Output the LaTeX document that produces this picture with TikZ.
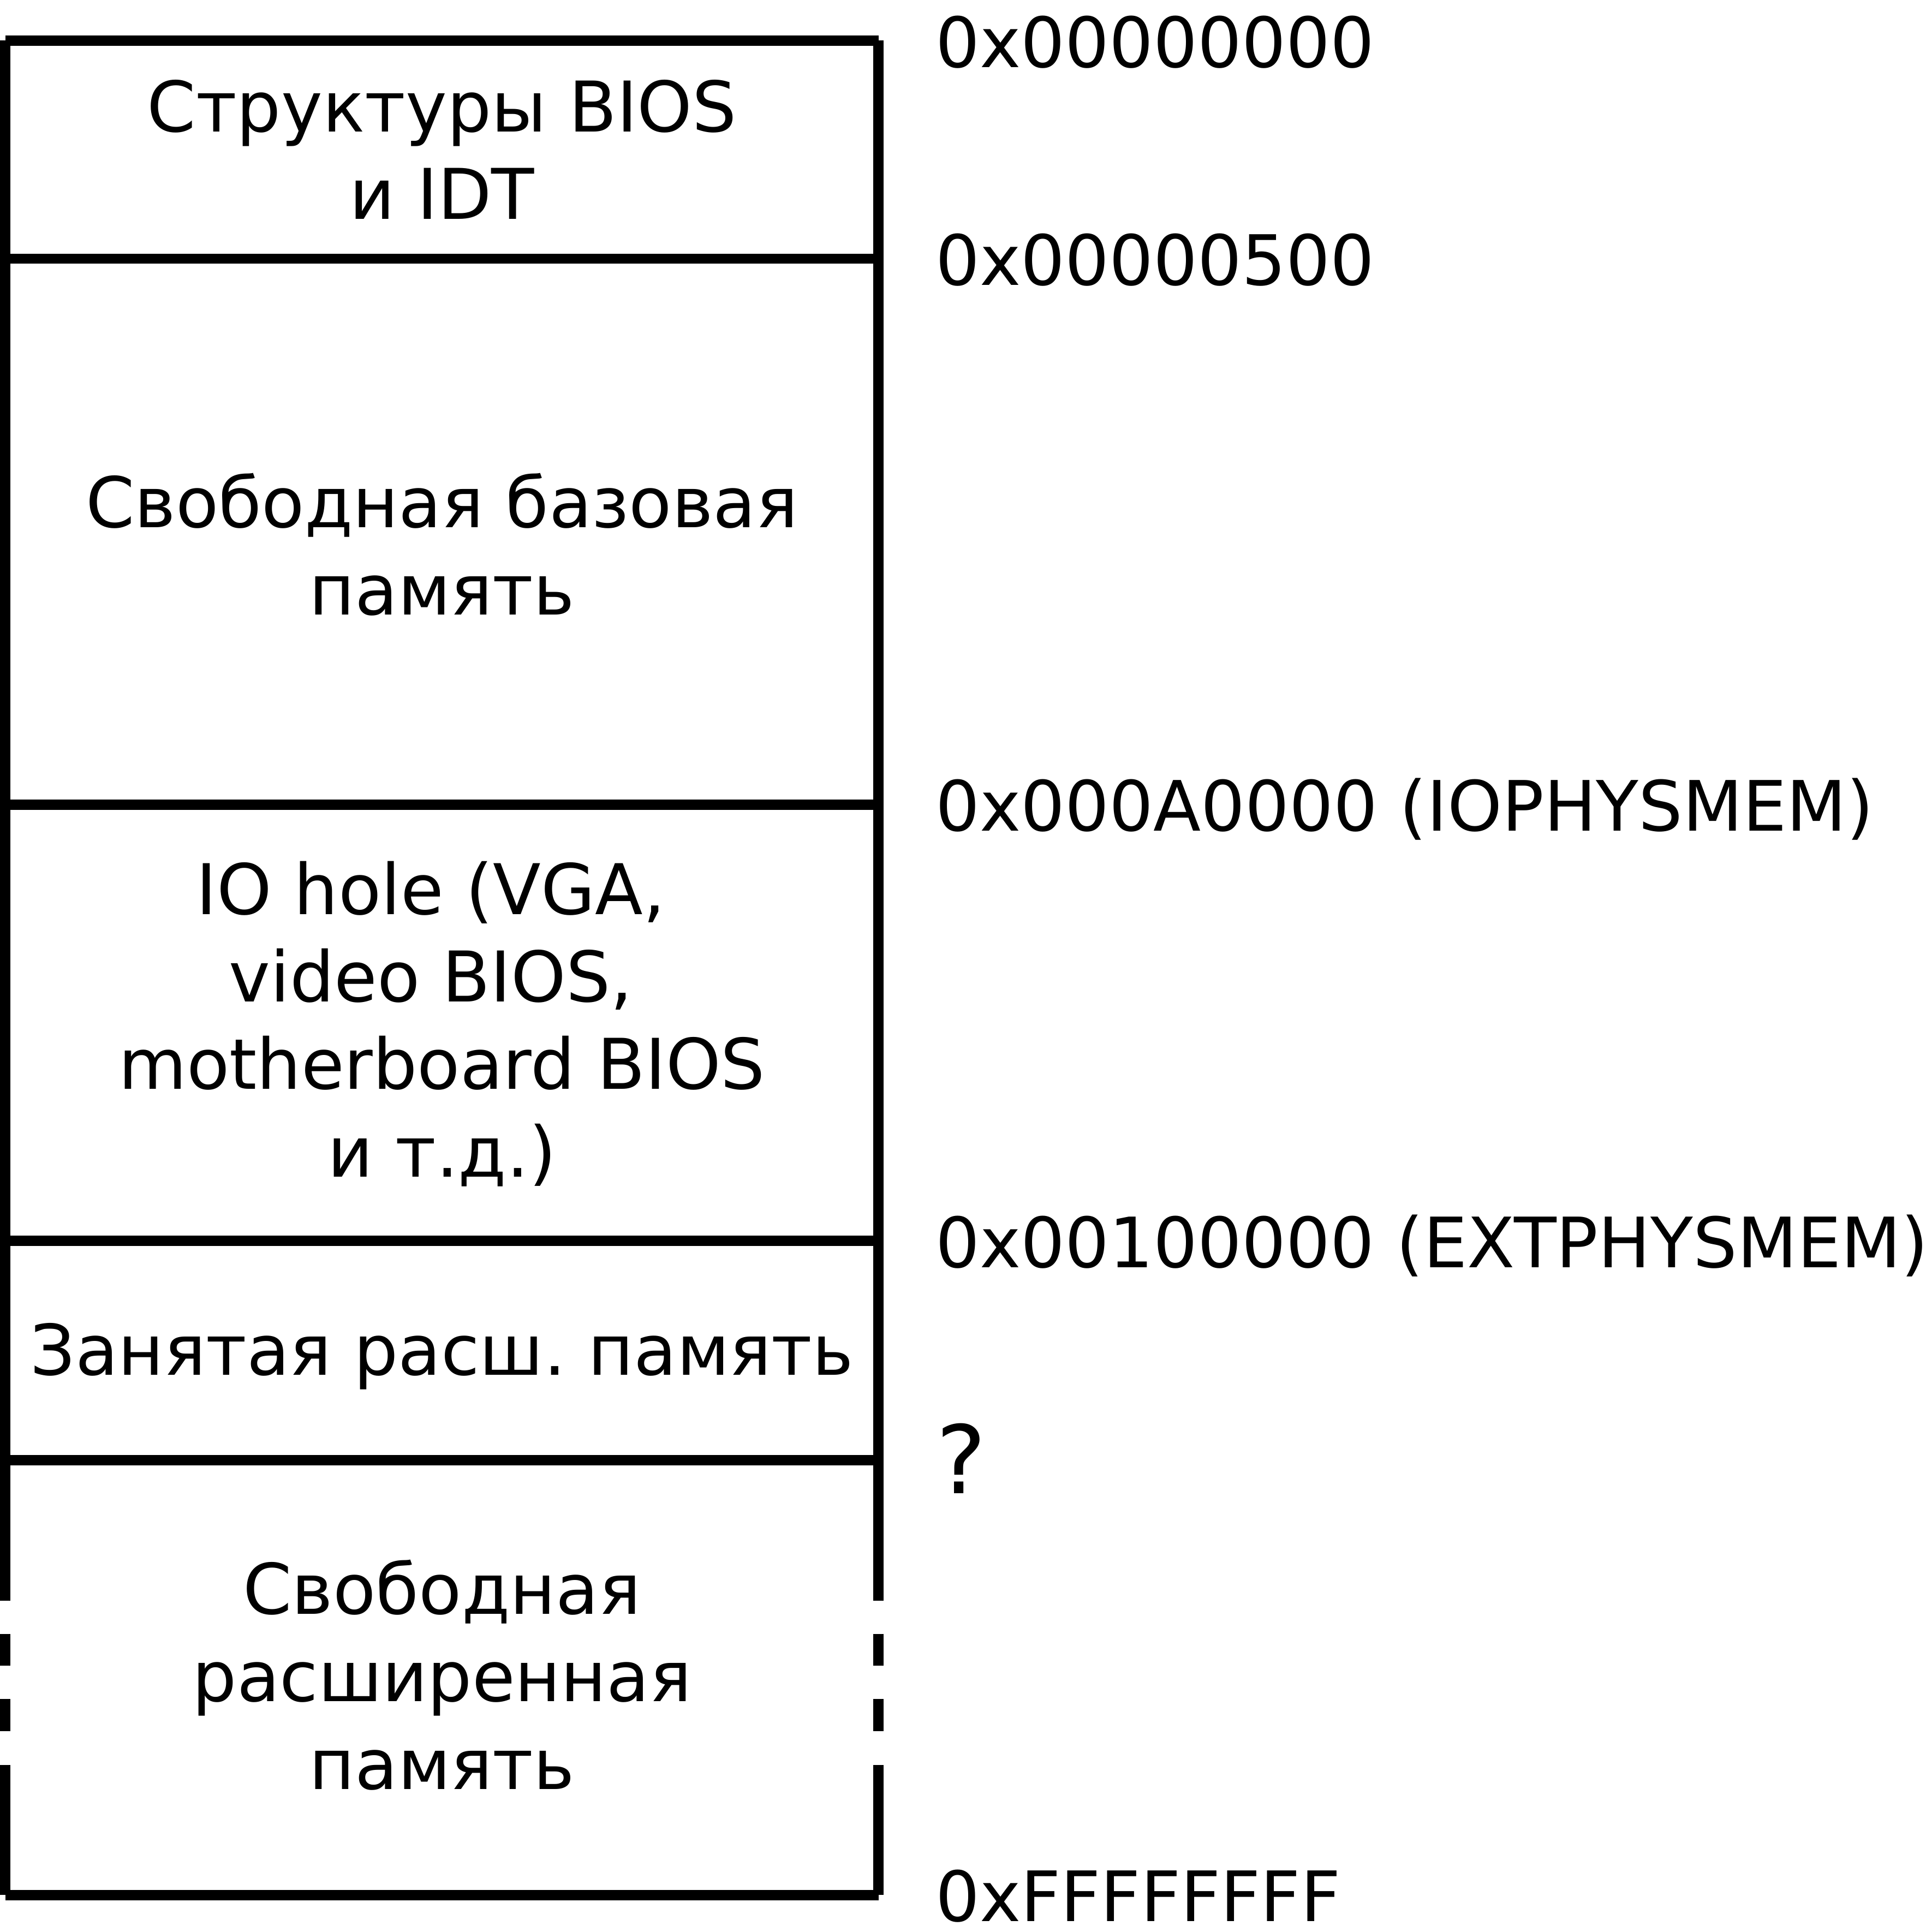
\documentclass[tikz,border=0pt]{standalone}
\usepackage{fontspec}
\setmainfont{DejaVu Sans}
\frenchspacing
\tikzset{
  wall/.style={line width=0.082cm},
  region/.style={align=center, inner sep=0pt, anchor=base, font=\fontsize{16.15}{20.2}\selectfont},
  addr/.style={anchor=base west, inner sep=0pt, font=\fontsize{16.05}{20.2}\selectfont}
}
\begin{document}
\begin{tikzpicture}
  \useasboundingbox (0,0) rectangle (15.68,-15.68);
  \foreach \y in {-0.33,-2.10,-6.53,-10.07,-11.85,-15.38}
    \draw [wall] (0.043,\y) -- (7.13,\y);
  \foreach \x in {0.043,7.13} {
    \draw [wall] (\x,-0.33) -- (\x,-12.99);
    \draw [wall] (\x,-13.26) -- (\x,-13.52);
    \draw [wall] (\x,-13.79) -- (\x,-14.05);
    \draw [wall] (\x,-14.325) -- (\x,-15.38);
  }
  \node [region] (bios) at (3.587,-1.78) {Структуры BIOS\\и IDT};
  \node [region] (base) at (3.587,-4.99) {Свободная базовая\\память};
  \node [region] (hole) at (3.587,-9.55) {IO hole (VGA,\kern0.318em\\video BIOS,\kern0.318em\\motherboard BIOS\\и т.д.)};
  \node [region] (used) at (3.587,-11.16) {Занятая расш. память};
  \node [region] (free) at (3.587,-14.52) {Свободная\\расширенная\\память};
  \node [addr] (a0) at (7.585,-0.545) {0x00000000};
  \node [addr] (a1) at (7.585,-2.315) {0x00000500};
  \node [addr] (a2) at (7.585,-6.745) {0x000A0000 (IOPHYSMEM)};
  \node [addr] (a3) at (7.585,-10.285) {0x00100000 (EXTPHYSMEM)};
  \node [addr, font=\fontsize{21.8}{26}\selectfont] (a4) at (7.59,-12.12) {?};
  \node [addr] (a5) at (7.585,-15.595) {0xFFFFFFFF};
\end{tikzpicture}
\end{document}
